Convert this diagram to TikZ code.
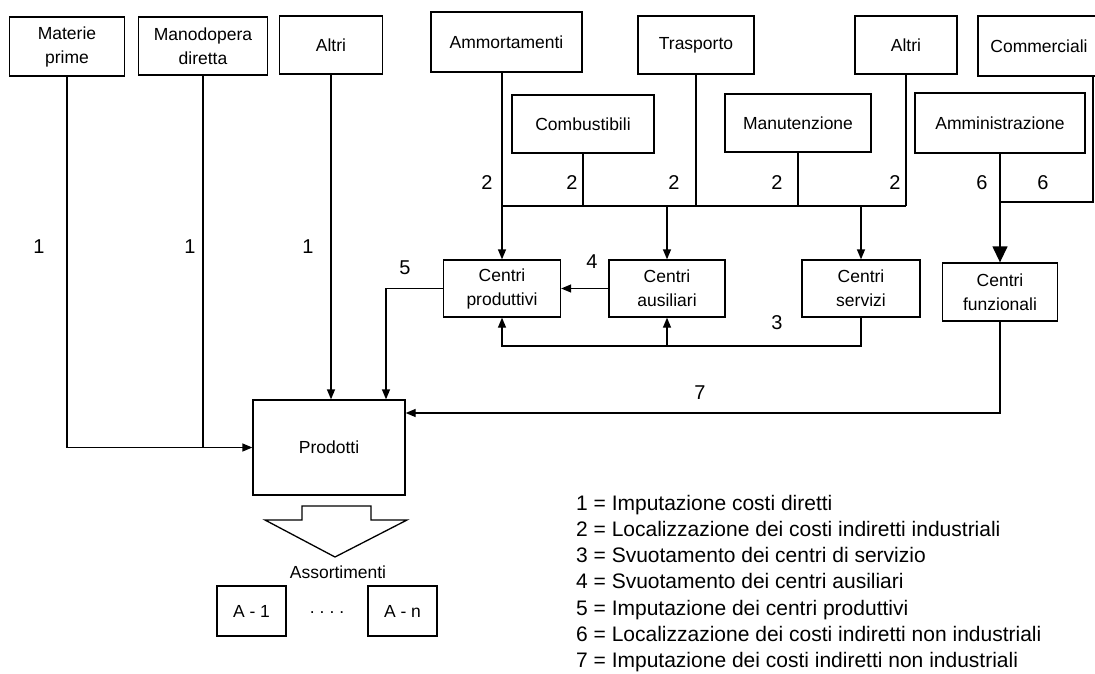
\documentclass[tikz,border=0pt]{standalone}
\usepackage{fontspec}
\setmainfont{Liberation Sans}
\usetikzlibrary{arrows.meta,calc}
\newcommand\bfnt{\fontsize{17.5}{24}\selectfont}
\newcommand\lfnt{\fontsize{20}{24}\selectfont}
\newcommand\gfnt{\fontsize{21}{24}\selectfont}
\tikzset{
  box/.style={draw, line width=1.3pt, inner sep=0pt, align=center, font=\bfnt},
  conn/.style={line width=1.3pt},
  arr/.style={conn, -{Triangle[length=10pt,width=8pt]}},
  bigarr/.style={conn, -{Triangle[length=16pt,width=15pt]}},
  lbl/.style={font=\lfnt, inner sep=0pt},
  leg/.style={font=\gfnt, anchor=base west, inner sep=0pt},
}
\begin{document}
\begin{tikzpicture}[x=1pt,y=-1pt]
\useasboundingbox (0,0) rectangle (1095,674);
\clip (0,0) rectangle (1095,674);
% top row
\node[box, minimum width=115pt, minimum height=59pt] (mp) at (67,46.5) {Materie\\prime};
\node[box, minimum width=129pt, minimum height=58pt] (md) at (203,46) {Manodopera\\diretta};
\node[box, minimum width=103pt, minimum height=58pt] (al1) at (331,45) {Altri};
\node[box, minimum width=151pt, minimum height=60pt] (amm) at (506.5,42) {Ammortamenti};
\node[box, minimum width=116pt, minimum height=58pt] (tra) at (696,45) {Trasporto};
\node[box, minimum width=102pt, minimum height=58pt] (al2) at (906,45) {Altri};
\node[box, minimum width=122pt, minimum height=60pt] (com) at (1039,46) {Commerciali};
% second row
\node[box, minimum width=142pt, minimum height=58pt] (comb) at (583,124) {Combustibili};
\node[box, minimum width=146pt, minimum height=58pt] (man) at (798,123) {Manutenzione};
\node[box, minimum width=170pt, minimum height=60pt] (amn) at (1000,123) {Amministrazione};
% centres
\node[box, minimum width=117pt, minimum height=57pt] (cp) at (502,288.5) {Centri\\produttivi};
\node[box, minimum width=116pt, minimum height=57pt] (ca) at (667,288.5) {Centri\\ausiliari};
\node[box, minimum width=118pt, minimum height=57pt] (cs) at (861,288.5) {Centri\\servizi};
\node[box, minimum width=115pt, minimum height=58pt] (cf) at (1000,292) {Centri\\funzionali};
% products
\node[box, minimum width=152pt, minimum height=95pt] (prod) at (329,447.5) {Prodotti};
\draw[conn] (302,506) -- (371,506) -- (371,520) -- (407,520) -- (335,557) -- (265,520) -- (302,520) -- cycle;
\node[font=\bfnt, inner sep=0pt] (ass) at (338,572) {Assortimenti};
\node[box, minimum width=69pt, minimum height=50pt] (a1) at (251.5,611) {A - 1};
\node[font=\bfnt, inner sep=0pt] (dots) at (327,613) {.\hspace{5pt}.\hspace{5pt}.\hspace{5pt}.};
\node[box, minimum width=69pt, minimum height=50pt] (an) at (402.5,611) {A - n};
% connectors 1
\draw[arr] (mp.south) |- (prod.west);
\draw[conn] (md.south) -- (md.south |- prod.west);
\draw[arr] (al1.south) -- (al1.south |- prod.north);
% bus 2
\coordinate (busL) at (502,206);
\coordinate (busR) at (906,206);
\draw[arr] (cp.north |- amm.south) -- (cp.north);
\draw[conn] (comb.south) -- (comb.south |- busL);
\draw[conn] (tra.south) -- (tra.south |- busL);
\draw[conn] (man.south) -- (man.south |- busL);
\draw[conn] (al2.south) -- (busR);
\draw[conn] (busL) -- (busR);
\draw[arr] (ca.north |- busL) -- (ca.north);
\draw[arr] (cs.north |- busL) -- (cs.north);
% 4
\draw[arr] (ca.west) -- (cp.east);
% 3
\coordinate (r3) at (502,346);
\draw[arr] (cs.south) |- (r3) -- (cp.south);
\draw[arr] (ca.south |- r3) -- (ca.south);
% 5
\coordinate (c5) at (386,288.5);
\draw[arr] (cp.west) -- (c5) -- (c5 |- prod.north);
% 6
\coordinate (cm1) at (1093,76);
\coordinate (cm2) at (1093,202);
\draw[conn] (cm1) -- (cm2) -- (cm2 -| amn.south);
\draw[bigarr] (amn.south) -- (cf.north);
% 7
\coordinate (c7) at (1000,413);
\draw[arr] (cf.south) -- (c7) -- (c7 -| prod.east);
% labels
\node[lbl] (l1a) at (39,247) {1};
\node[lbl] (l1b) at (190,247) {1};
\node[lbl] (l1c) at (308,247) {1};
\node[lbl] (l2a) at (487,183) {2};
\node[lbl] (l2b) at (572,183) {2};
\node[lbl] (l2c) at (674,183) {2};
\node[lbl] (l2d) at (777,183) {2};
\node[lbl] (l2e) at (895,183) {2};
\node[lbl] (l6a) at (982,183) {6};
\node[lbl] (l6b) at (1043,183) {6};
\node[lbl] (l5) at (405,268) {5};
\node[lbl] (l4) at (592,262) {4};
\node[lbl] (l3) at (777,323) {3};
\node[lbl] (l7) at (700,393) {7};
% legend
\node[leg] (g1) at (576,510) {1 = Imputazione costi diretti};
\node[leg] (g2) at (576,536.3) {2 = Localizzazione dei costi indiretti industriali};
\node[leg] (g3) at (576,562.6) {3 = Svuotamento dei centri di servizio};
\node[leg] (g4) at (576,588.9) {4 = Svuotamento dei centri ausiliari};
\node[leg] (g5) at (576,615.2) {5 = Imputazione dei centri produttivi};
\node[leg] (g6) at (576,641.5) {6 = Localizzazione dei costi indiretti non industriali};
\node[leg] (g7) at (576,667.8) {7 = Imputazione dei costi indiretti non industriali};
\end{tikzpicture}
\end{document}
